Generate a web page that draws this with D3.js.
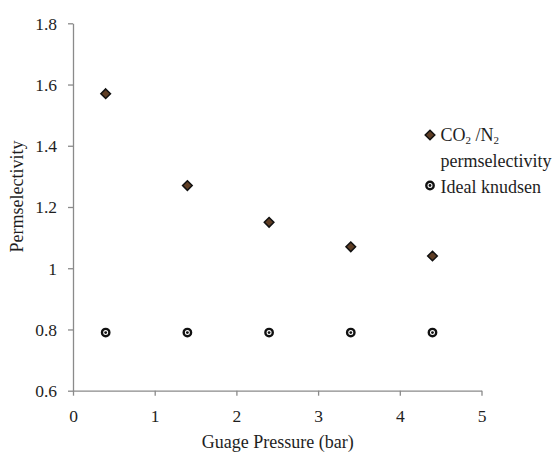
<!DOCTYPE html>
<html>
<head>
<meta charset="utf-8">
<script src="https://cdn.jsdelivr.net/npm/d3@7/dist/d3.min.js"></script>
<style>
  html, body { margin: 0; padding: 0; background: #fff; }
  svg { display: block; }
  text { font-family: "Liberation Serif", "Times New Roman", serif; fill: #1e1e1e; }
</style>
</head>
<body>
<svg id="chart" width="555" height="452"></svg>
<script>
// Gauge pressure (bar) at which each measurement was taken
const pressure = [0.4, 1.4, 2.4, 3.4, 4.4];
// Measured CO2/N2 permselectivity
const co2n2 = [1.57, 1.27, 1.15, 1.07, 1.04];
// Ideal Knudsen selectivity
const knudsen = [0.79, 0.79, 0.79, 0.79, 0.79];

const xTicks = [0, 1, 2, 3, 4, 5];
const yTicks = [0.6, 0.8, 1.0, 1.2, 1.4, 1.6, 1.8];

const svg = d3.select("#chart");
svg.append("rect").attr("width", 555).attr("height", 452).attr("fill", "#fff");

const x = d3.scaleLinear().domain([0, 5]).range([73, 481.5]);
const y = d3.scaleLinear().domain([0.6, 1.8]).range([390.7, 23.3]);

const axisColor = "#8a8a8a";
const serif = "\"Liberation Serif\", \"Times New Roman\", serif";
const trim = d => String(+(+d).toFixed(1));

// y axis
const gy = svg.append("g")
  .attr("transform", `translate(${x(0)},0)`)
  .call(d3.axisLeft(y).tickValues(yTicks).tickSize(5).tickSizeOuter(0).tickFormat(trim))
  .attr("font-family", serif).attr("font-size", 17.5);
gy.select(".domain").attr("stroke", axisColor).attr("stroke-width", 1.3);
gy.selectAll(".tick line").attr("stroke", axisColor).attr("stroke-width", 1.3);
gy.selectAll(".tick text")
  .attr("x", -16).attr("dy", "0.34em").attr("fill", "#1e1e1e");

// x axis
const gx = svg.append("g")
  .attr("transform", `translate(0,${y(0.6)})`)
  .call(d3.axisBottom(x).tickValues(xTicks).tickSize(5).tickSizeOuter(0).tickFormat(trim))
  .attr("font-family", serif).attr("font-size", 17.5);
gx.select(".domain").attr("stroke", axisColor).attr("stroke-width", 1.3);
gx.selectAll(".tick line").attr("stroke", axisColor).attr("stroke-width", 1.3);
gx.selectAll(".tick text")
  .attr("y", 31).attr("dy", 0).attr("fill", "#1e1e1e");

// axis titles
svg.append("text")
  .attr("x", (x(0) + x(5)) / 2 + 0.5).attr("y", 448)
  .attr("text-anchor", "middle")
  .style("font-size", "18px")
  .text("Guage Pressure (bar)");

svg.append("text")
  .attr("transform", "translate(23,196.5) rotate(-90)")
  .attr("text-anchor", "middle")
  .style("font-size", "18px")
  .text("Permselectivity");

// marker shapes
function diamond(g) {
  g.append("path")
    .attr("d", "M0,-4.8L4.8,0L0,4.8L-4.8,0Z")
    .attr("fill", "#5e3d24")
    .attr("stroke", "#111")
    .attr("stroke-width", 1.5)
    .attr("stroke-linejoin", "miter");
}
function ring(g) {
  g.append("circle").attr("r", 3.7)
    .attr("fill", "#fff").attr("stroke", "#111").attr("stroke-width", 2.4);
  g.append("circle").attr("r", 1.4).attr("fill", "#111");
}

// Ideal Knudsen series
svg.append("g").selectAll("g")
  .data(pressure.map((p, i) => ({ p, v: knudsen[i] })))
  .join("g")
  .attr("transform", d => `translate(${x(d.p)},${y(d.v)})`)
  .each(function () { ring(d3.select(this)); });

// CO2/N2 permselectivity series
svg.append("g").selectAll("g")
  .data(pressure.map((p, i) => ({ p, v: co2n2[i] })))
  .join("g")
  .attr("transform", d => `translate(${x(d.p)},${y(d.v)})`)
  .each(function () { diamond(d3.select(this)); });

// legend
const lg = svg.append("g");
diamond(lg.append("g").attr("transform", "translate(430,135)"));
const t1 = lg.append("text").attr("x", 440.5).attr("y", 140.7).style("font-size", "18px");
t1.append("tspan").text("CO");
t1.append("tspan").text("2").style("font-size", "11px").attr("dy", 3);
t1.append("tspan").text(" /N").attr("dy", -3);
t1.append("tspan").text("2").style("font-size", "11px").attr("dy", 3);
lg.append("text").attr("x", 440.5).attr("y", 166.5).style("font-size", "18px")
  .text("permselectivity");
ring(lg.append("g").attr("transform", "translate(430,185.5)"));
lg.append("text").attr("x", 440.5).attr("y", 192.5).style("font-size", "18px")
  .text("Ideal knudsen");
</script>
</body>
</html>
